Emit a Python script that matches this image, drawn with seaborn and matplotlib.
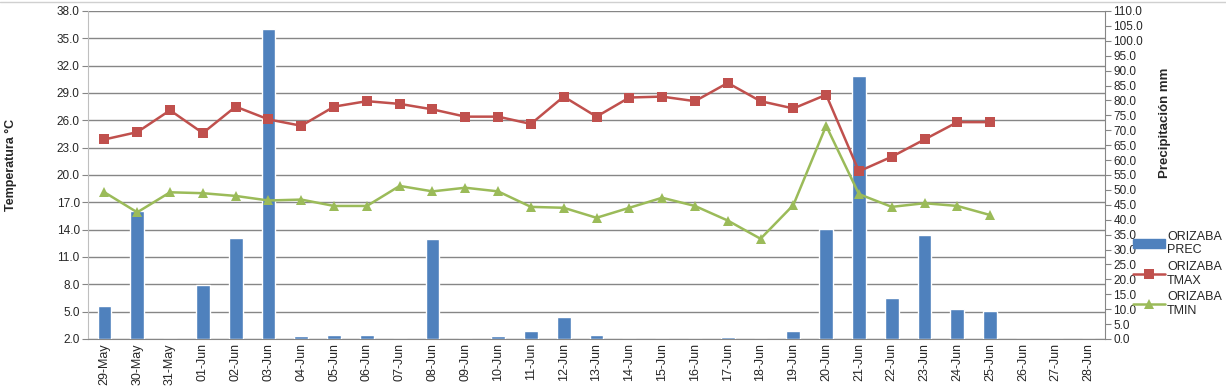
import numpy as np
import pandas as pd
import matplotlib
matplotlib.use('Agg')
import matplotlib.pyplot as plt
import seaborn as sns
from matplotlib.lines import Line2D
from matplotlib.patches import Patch

dates = ['29-May', '30-May', '31-May', '01-Jun', '02-Jun', '03-Jun', '04-Jun', '05-Jun',
         '06-Jun', '07-Jun', '08-Jun', '09-Jun', '10-Jun', '11-Jun', '12-Jun', '13-Jun',
         '14-Jun', '15-Jun', '16-Jun', '17-Jun', '18-Jun', '19-Jun', '20-Jun', '21-Jun',
         '22-Jun', '23-Jun', '24-Jun', '25-Jun', '26-Jun', '27-Jun', '28-Jun']
prec = [11.2, 43.0, 0.0, 18.1, 33.9, 104.0, 1.1, 1.4, 1.4, 0.0, 33.6, 0.0, 1.1, 2.8, 7.4,
        1.3, 0.0, 0.0, 0.0, 0.8, 0.0, 2.8, 37.0, 88.2, 13.8, 34.9, 10.2, 9.5, 0.0, 0.0, 0.0]
tmax = [23.9, 24.7, 27.1, 24.6, 27.5, 26.1, 25.4, 27.5, 28.1, 27.8, 27.2, 26.4, 26.4, 25.6,
        28.6, 26.4, 28.5, 28.6, 28.1, 30.1, 28.1, 27.3, 28.8, 20.4, 22.0, 23.9, 25.8, 25.8]
tmin = [18.1, 15.9, 18.1, 18.0, 17.7, 17.2, 17.3, 16.6, 16.6, 18.8, 18.2, 18.6, 18.2, 16.5,
        16.4, 15.3, 16.4, 17.5, 16.6, 15.0, 13.0, 16.7, 25.4, 17.9, 16.5, 16.9, 16.6, 15.6]
temp_ticks = np.arange(2.0, 38.1, 3.0)
prec_ticks = np.arange(0.0, 110.1, 5.0)

c_prec = '#4F81BD'
c_tmax = '#C0504D'
c_tmin = '#9BBB59'
grid_c = '#868686'

sns.set_style('white')
plt.rcParams['font.family'] = ['Liberation Sans', 'DejaVu Sans']

fig = plt.figure(figsize=(12.26, 3.91), dpi=100)
ax = fig.add_axes([0.0718, 0.133, 0.8295, 0.839])

# temperature axis with gridlines (bottom layer)
ax.set_ylim(2, 38)
ax.set_xlim(-0.5, len(dates) - 0.5)
ax.set_yticks(temp_ticks)
ax.set_yticklabels(['%.1f' % t for t in temp_ticks], fontsize=8.5)
ax.yaxis.grid(True, color=grid_c, linewidth=1)
ax.set_xticks(range(len(dates)))
ax.set_xticklabels(dates, rotation=90, fontsize=9)
ax.set_xticks(np.arange(-0.5, len(dates), 1), minor=True)
ax.tick_params(axis='x', which='major', length=0, pad=3)
ax.tick_params(axis='x', which='minor', length=4, color=grid_c, width=1)
ax.tick_params(axis='y', length=4, color=grid_c, left=True, pad=2)
ax.set_ylabel('Temperatura °C', fontsize=9, fontweight='bold')
ax.yaxis.set_label_coords(-0.07, 0.53)
for s in ['top', 'right']:
    ax.spines[s].set_visible(False)
ax.spines['left'].set_color('#bfbfbf')
ax.spines['bottom'].set_color(grid_c)

# precipitation bars on the secondary axis
ax2 = ax.twinx()
df_p = pd.DataFrame({'fecha': dates, 'prec': prec})
sns.barplot(data=df_p, x='fecha', y='prec', color=c_prec, saturation=1, width=0.42, ax=ax2)
ax2.set_ylim(0, 110)
ax2.set_xlim(-0.5, len(dates) - 0.5)
ax2.set_yticks(prec_ticks)
ax2.set_yticklabels(['%.1f' % p for p in prec_ticks], fontsize=8.5)
ax2.tick_params(axis='y', length=4, color=grid_c, right=True, pad=2)
ax2.set_ylabel('Precipitación mm', fontsize=9.5, fontweight='bold')
ax2.yaxis.set_label_coords(1.053, 0.66)
ax2.set_xlabel('')
for s in ['top', 'left', 'bottom']:
    ax2.spines[s].set_visible(False)
ax2.spines['right'].set_color(grid_c)

# temperature lines on top
ax3 = ax.twinx()
df_t = pd.DataFrame({'x': np.arange(len(tmax)), 'tmax': tmax, 'tmin': tmin})
sns.lineplot(data=df_t, x='x', y='tmax', color=c_tmax, marker='s', markersize=7,
             markeredgewidth=0, linewidth=1.8, ax=ax3)
sns.lineplot(data=df_t, x='x', y='tmin', color=c_tmin, marker='^', markersize=7.5,
             markeredgewidth=0, linewidth=1.8, ax=ax3)
ax3.set_ylim(ax.get_ylim())
ax3.set_xlim(ax.get_xlim())
ax3.axis('off')

handles = [Patch(color=c_prec),
           Line2D([], [], color=c_tmax, marker='s', markersize=7, markeredgewidth=0, linewidth=1.8),
           Line2D([], [], color=c_tmin, marker='^', markersize=7, markeredgewidth=0, linewidth=1.8)]
labels = ['ORIZABA\nPREC', 'ORIZABA\nTMAX', 'ORIZABA\nTMIN']
fig.legend(handles, labels, loc='upper left', bbox_to_anchor=(0.924, 0.41), frameon=False,
           fontsize=9, handlelength=2.6, handletextpad=0.15, labelspacing=0.35,
           borderaxespad=0, borderpad=0)

# spreadsheet border line at the top
fig.add_artist(Line2D([0, 1], [0.995, 0.995], color='#d0d0d0', linewidth=1))

fig.savefig('out.png', dpi=100)
